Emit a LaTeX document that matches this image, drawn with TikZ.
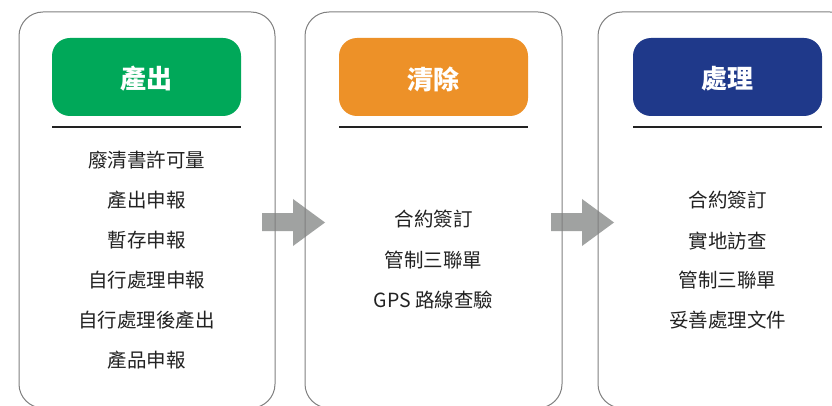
\documentclass[tikz,border=0pt]{standalone}
\usepackage{fontspec}
\setmainfont{Noto Sans CJK TC}
\definecolor{cgreen}{RGB}{0,168,89}
\definecolor{corange}{RGB}{237,145,40}
\definecolor{cnavy}{RGB}{31,57,138}
\definecolor{cgray}{RGB}{160,162,161}
\definecolor{cborder}{RGB}{128,128,128}
\definecolor{ctext}{RGB}{34,34,34}
\tikzset{
  panel/.style={draw=cborder, line width=1pt, rounded corners=24pt},
  header/.style={rounded corners=18pt, minimum width=189pt, minimum height=78pt, fill=#1},
  headertext/.style={text=white, font=\fontsize{26}{30}\selectfont\bfseries, inner sep=0pt},
  sepline/.style={draw=ctext, line width=1.2pt},
  item/.style={text=ctext, font=\fontsize{19.5}{24}\selectfont, inner sep=0pt},
  blockarrow/.style={fill=cgray}
}
\begin{document}
\begin{tikzpicture}[x=1pt,y=-1pt]
\useasboundingbox (0,0) rectangle (832,406);
\clip (0,0) rectangle (832,406);
\fill[white] (0,0) rectangle (832,406);
% arrows
\fill[blockarrow] (262,213) -- (293,213) -- (293,199) -- (325,222.5) -- (293,246) -- (293,231) -- (262,231) -- cycle;
\fill[blockarrow] (551,213) -- (582,213) -- (582,199) -- (614,222.5) -- (582,246) -- (582,231) -- (551,231) -- cycle;
% panels
\draw[panel] (19,12) rectangle (275,408);
\draw[panel] (305,12) rectangle (562,408);
\draw[panel] (598,12) rectangle (854,408);
% headers
\node[header=cgreen] (h1) at (146.5,77) {};
\node[header=corange] (h2) at (433.5,77) {};
\node[header=cnavy] (h3) at (727.5,77) {};
\node[headertext] (t1) at (146.5,79) {產出};
\node[headertext] (t2) at (433.5,79) {清除};
\node[headertext] (t3) at (727.5,79) {處理};
\draw[sepline] (52,127) -- (241,127);
\draw[sepline] (339,127) -- (528,127);
\draw[sepline] (633,127) -- (822,127);
% panel 1 items
\node[item] (a1) at (146.5,160) {廢清書許可量};
\node[item] (a2) at (146.5,200) {產出申報};
\node[item] (a3) at (146.5,240) {暫存申報};
\node[item] (a4) at (146.5,280) {自行處理申報};
\node[item] (a5) at (146.5,320) {自行處理後產出};
\node[item] (a6) at (146.5,360) {產品申報};
% panel 2 items
\node[item] (b1) at (433.5,219) {合約簽訂};
\node[item] (b2) at (433.5,260) {管制三聯單};
\node[item] (b3) at (433.5,300) {GPS 路線查驗};
% panel 3 items
\node[item] (c1) at (727.5,200) {合約簽訂};
\node[item] (c2) at (727.5,241) {實地訪查};
\node[item] (c3) at (727.5,280) {管制三聯單};
\node[item] (c4) at (727.5,320) {妥善處理文件};
\end{tikzpicture}
\end{document}
